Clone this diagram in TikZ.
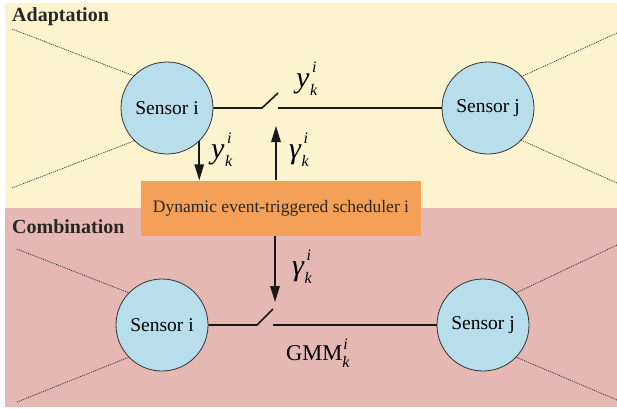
\documentclass[tikz,border=0pt]{standalone}
\usepackage{fontspec}
\setmainfont{Liberation Serif}
\usetikzlibrary{arrows.meta}
\definecolor{bgY}{RGB}{253,243,206}
\definecolor{bgP}{RGB}{229,184,180}
\definecolor{orangeC}{RGB}{245,160,88}
\definecolor{sensorC}{RGB}{184,222,235}
\newcommand{\scr}[1]{{\fontsize{16}{16}\selectfont\itshape #1}}
\newcommand{\symlab}[1]{{\fontsize{30}{32}\selectfont\itshape #1}\rlap{\hspace{2.5pt}\raisebox{15pt}{\scr{i}}}\hspace{0.5pt}\raisebox{-8pt}{\scr{k}}}
\begin{document}
\begin{tikzpicture}[x=1pt,y=-1pt,
  sensor/.style={circle,draw=black!80,line width=0.8pt,fill=sensorC,minimum size=92pt,inner sep=0pt,font=\fontsize{19.5}{22}\selectfont},
  link/.style={line width=1.6pt,black!90},
  arr/.style={line width=1.5pt,black!90,-{Triangle[length=16pt,width=9.5pt]}},
  dots/.style={dash pattern=on 1pt off 1pt,line width=0.7pt,black!85},
  lbl/.style={inner sep=0pt,anchor=base west},
  sect/.style={inner sep=0pt,anchor=base west,font=\fontsize{20}{22}\selectfont\bfseries,text=black!85}]
\useasboundingbox (0,0) rectangle (617,408);
\fill[bgY] (5,3) rectangle (617,208);
\fill[bgP] (5,208) rectangle (617,407);
\node[sect] (adapt) at (12,21) {Adaptation};
\node[sect] (comb) at (12,233) {Combination};
% sensors
\node[sensor] (si1) at (167,108) {Sensor i};
\node[sensor] (sj1) at (488,108) {Sensor j};
\node[sensor] (si2) at (162,325) {Sensor i};
\node[sensor] (sj2) at (483,325) {Sensor j};
% scheduler
\node[fill=orangeC,minimum width=280pt,minimum height=55pt,inner sep=0pt,font=\fontsize{17.5}{20}\selectfont,text=black!85] (sched) at (281,208) {Dynamic event-triggered scheduler i};
% dotted neighbour links
\coordinate (d1) at (12,29); \coordinate (d2) at (12,188);
\coordinate (d3) at (617,33); \coordinate (d4) at (617,183);
\coordinate (d5) at (17,249); \coordinate (d6) at (17,402);
\coordinate (d7) at (617,245); \coordinate (d8) at (617,400);
\draw[dots] (d1) -- (si1.136);
\draw[dots] (d2) -- (si1.-135);
\draw[dots] (d3) -- (sj1.43);
\draw[dots] (d4) -- (sj1.-44);
\draw[dots] (d5) -- (si2.136);
\draw[dots] (d6) -- (si2.-136);
\draw[dots] (d7) -- (sj2.44);
\draw[dots] (d8) -- (sj2.-44);
% upper switch
\coordinate (s1a) at (262,108); \coordinate (s1b) at (278,93); \coordinate (s1c) at (278,108);
\draw[link] (si1.east) -- (s1a) -- (s1b);
\draw[link] (s1c) -- (sj1.west);
% lower switch
\coordinate (s2a) at (257,325); \coordinate (s2b) at (273,309); \coordinate (s2c) at (273,325);
\draw[link] (si2.east) -- (s2a) -- (s2b);
\draw[link] (s2c) -- (sj2.west);
% arrows
\coordinate (g1) at (276,126);
\coordinate (g2) at (275,302);
\draw[arr] (si1.-46) -- (si1.-46 |- sched.north);
\draw[arr] (g1 |- sched.north) -- (g1);
\draw[arr] (g2 |- sched.south) -- (g2);
% labels
\node[lbl] (ly1) at (296,87) {\symlab{y}};
\node[lbl] (ly2) at (211,158) {\symlab{y}};
\node[lbl] (lg1) at (289,158) {\symlab{γ}};
\node[lbl] (lg2) at (292,275) {\symlab{γ}};
\node[lbl] (gmm) at (286,360) {{\fontsize{22.5}{24}\selectfont GMM}\rlap{\hspace{1pt}\raisebox{11pt}{\scr{i}}}\raisebox{-7pt}{\scr{k}}};
\end{tikzpicture}
\end{document}
